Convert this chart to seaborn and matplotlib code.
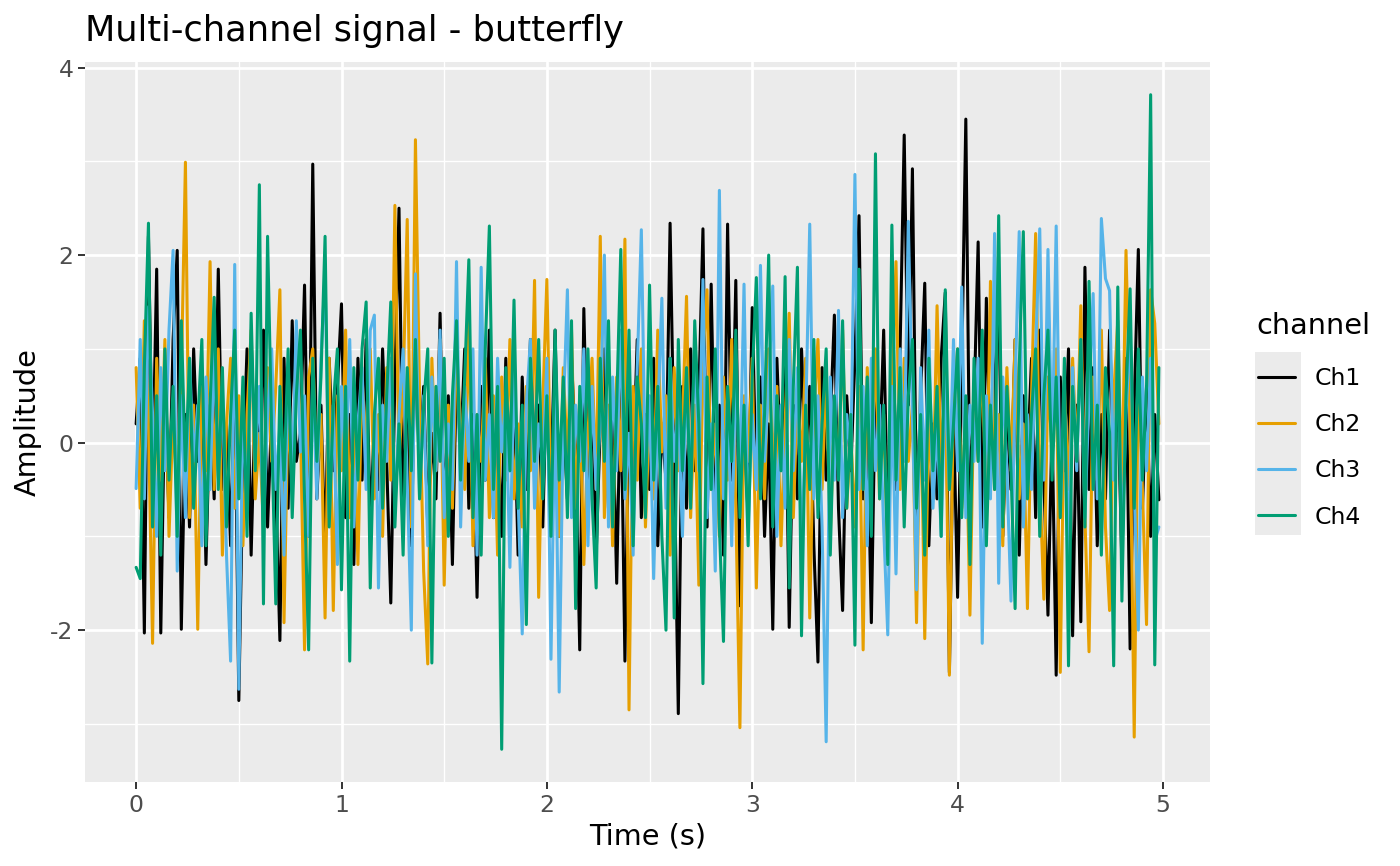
import numpy as np
import pandas as pd
import seaborn as sns
import matplotlib
matplotlib.use("Agg")
import matplotlib.pyplot as plt
from matplotlib.patches import Rectangle

# values, 50 samples per second
sample_rate = 50
channels = ["Ch1", "Ch2", "Ch3", "Ch4"]
colors = {"Ch1": "#000000", "Ch2": "#E69F00", "Ch3": "#56B4E9", "Ch4": "#009E73"}

ch1 = [
    0.2, 0.9, -2.03, 2.2, -0.4, 1.85, -2.03, 0.6, -0.8, 1.1, 2.05, -1.99, 0.3, -0.9, 1.0, -0.2, 0.7, -1.3, 0.4, -0.6, 1.85, -0.5, 0.2, -1.1, 0.8,
    -2.75, -0.3, 1.0, -1.2, 0.5, -0.1, 1.2, -0.9, 0.3, -0.5, -2.11, 0.9, -0.7, 1.3, -0.2, 0.1, 1.68, -1.0, 2.97, -0.6, 0.4, -1.2, 0.9, -0.3, 0.6,
    1.48, -0.8, 0.3, -1.3, 0.9, -0.4, 1.1, -0.9, 0.2, -0.5, 1.0, -0.2, -1.71, 0.7, 2.5, -0.7, 0.4, -1.1, 1.2, -0.3, 0.6, -0.9, 0.1, -0.6, 1.38,
    -0.9, 0.5, -1.3, 0.8, -0.1, 1.0, -0.7, 0.3, -1.65, 0.6, -0.4, 1.2, -0.8, 0.2, -1.0, 0.9, -0.3, 0.5, -1.2, 0.7, -0.5, 1.1, -0.2, 0.4, -0.9,
    0.8, -0.4, 1.2, -1.0, 0.3, -0.6, 0.9, -0.1, -2.21, 1.43, -0.5, 0.6, -1.2, 0.2, 1.0, -0.7, 0.4, -1.5, 0.7, -2.33, 0.5, -0.3, 1.1, -0.8, 0.3,
    -0.5, 0.9, -1.1, 0.2, -0.4, 2.34, -0.2, -2.89, 0.6, -0.7, 1.0, -0.3, 0.5, 2.28, -0.9, 1.69, -0.6, 0.4, -1.2, 2.33, -0.4, 1.73, -1.74, 0.3, -0.8,
    1.44, -0.5, 0.7, -1.0, 0.2, -1.99, 0.9, -0.3, 1.1, -1.97, 0.4, -0.6, 1.0, -0.2, 0.6, -1.1, -2.34, 0.8, -0.4, 0.2, 1.36, -0.7, -1.79, 0.5, -0.3,
    0.9, 2.42, -0.6, 0.3, -1.92, 0.7, -0.2, 1.2, -0.9, 0.4, -0.5, 1.0, 3.28, 0.4, 2.92, -0.8, 0.5, 1.7, -1.1, 0.2, -0.6, 0.9, 1.6, -2.45, 0.3,
    -1.65, 0.8, 3.45, -0.7, 0.4, 2.14, -0.9, 1.54, -0.3, 0.6, 1.59, -1.0, 0.3, -0.5, 1.1, -1.2, 0.5, -0.2, 0.9, -0.8, 1.2, -0.4, -1.84, 0.2, -2.48,
    0.7, -0.3, 1.0, -2.06, 0.4, -1.91, 1.87, -0.5, 0.8, -1.1, 0.3, -0.6, 1.2, -0.2, 0.5, -1.3, 0.9, -2.2, 0.4, 2.06, -0.7, 0.6, -1.0, 0.3, -0.61,
]
ch2 = [
    0.8, -0.7, 1.3, 0.2, -2.14, 0.9, -0.4, 1.1, -1.0, 0.3, -0.6, 0.7, 2.99, -0.8, 0.4, -1.99, 0.6, -0.3, 1.93, -0.5, 1.0, -1.2, 0.2, 0.9, -0.7,
    0.5, -1.1, 0.3, 1.2, -0.6, 0.1, -0.9, 0.8, -0.2, 0.6, 1.63, -1.92, 0.4, -0.5, 1.1, 0.2, -2.21, 0.7, 1.0, -0.4, 0.3, -1.87, 0.9, -1.79, 0.5,
    -0.3, 1.2, -0.8, 0.4, -1.3, 0.7, -0.1, 1.0, -0.6, 0.3, -1.0, 0.8, -0.4, 2.53, -0.2, 0.6, 2.38, -0.9, 3.23, 0.5, -1.37, -2.36, 0.9, -0.3, 1.1,
    -1.52, 0.4, -0.7, 1.0, 0.2, -0.5, 1.3, -1.1, 0.3, -0.2, 0.9, -0.8, 0.5, -1.2, 0.7, -0.4, 1.1, -0.6, 0.2, -0.9, 0.6, -0.3, 1.73, -1.65, 0.4,
    1.74, -0.6, 0.3, -1.0, 0.8, -0.2, 1.2, -0.7, 0.5, -1.3, 0.1, 0.9, -0.5, 2.2, -0.8, 0.4, -1.1, 0.7, -0.3, 2.17, -2.85, 0.6, -0.4, 1.0, -0.9,
    0.3, -0.6, 1.2, -0.1, 0.5, -1.2, 0.8, -0.3, 0.2, 1.56, -0.8, 0.4, -1.52, 0.9, 1.63, -0.5, 0.2, -1.0, 0.7, -0.4, 1.1, -0.7, -3.04, 0.5, -0.2,
    0.9, -1.55, 0.4, -0.6, 1.0, -0.3, 0.6, -1.1, 0.2, 1.38, -0.8, 0.5, -0.2, 0.9, -1.87, 0.3, 1.1, -0.5, 0.7, -1.0, 0.4, -0.3, 1.2, -0.7, 0.1,
    -0.9, 0.6, -2.21, 0.8, -0.4, 1.0, -0.6, 0.3, -1.2, 0.5, 1.93, -0.5, 0.9, -0.2, 0.4, -1.92, 0.7, -2.09, 0.3, -0.6, 1.46, -0.3, 0.8, -2.48, 0.5,
    1.0, -0.7, 0.4, -1.84, 0.6, -0.2, 0.9, -0.8, 1.72, -0.5, 0.3, -1.1, 0.8, -0.3, 1.1, -0.6, 0.2, -1.77, 0.5, 2.23, -0.4, -1.67, 0.7, -0.1, 1.0,
    -2.45, 0.6, -0.5, 0.9, -0.2, 1.46, -0.8, -2.23, 0.7, -0.4, 1.2, -0.9, -1.79, 0.5, 1.3, -0.6, 2.05, 0.2, -3.14, 0.8, -0.5, -1.94, 1.63, 1.27, 0.2,
]
ch3 = [
    -0.49, 1.1, -0.6, 1.45, 0.3, -1.0, 0.8, -0.3, 1.2, 2.05, -1.37, 0.5, -0.8, 0.9, -0.2, 0.4, -1.1, 0.7, -0.5, 1.0, -0.3, 0.6, -1.2, -2.33, 1.9,
    -2.63, 0.4, -0.7, 1.1, -0.2, 0.6, -0.9, 0.3, 1.0, -0.5, 0.2, -1.2, 0.8, -0.4, 1.3, -0.1, 0.5, -1.0, 0.7, -0.6, 0.9, 1.8, -0.8, 0.4, -1.3,
    0.6, -0.3, 1.1, -0.9, 0.2, 0.8, -0.5, 1.2, 1.36, -1.55, 0.4, -0.2, 0.9, -0.7, 0.3, 1.0, -0.4, -2.0, 1.8, -0.6, 0.5, -1.1, 0.7, -0.3, 1.2,
    -0.8, 0.2, -0.5, 1.93, -0.9, 0.6, -0.2, 1.0, -1.2, 1.87, -0.4, 0.3, -0.8, 0.9, -0.1, 0.5, -1.33, 0.8, -0.6, -2.04, 0.4, 1.1, -0.7, 0.2, -0.3,
    0.9, -2.31, 0.5, -2.66, 0.3, 1.63, -0.8, 0.4, -0.2, 1.0, -1.1, 0.6, -0.5, 0.2, 2.0, -0.9, 0.7, -0.3, 1.2, -0.6, 0.1, -1.2, 0.8, 2.27, -0.4,
    0.5, -1.45, 0.3, 1.54, -0.7, 0.9, -0.2, 0.4, -1.0, 0.7, -0.5, 1.1, -0.3, 1.74, -0.8, 0.2, -1.37, 2.69, -0.6, 0.5, -1.1, 0.8, -0.4, 1.69, -0.9,
    0.3, -0.5, 1.89, -0.2, 0.6, 1.67, -1.0, 0.4, -0.7, 1.1, -0.3, 0.8, -1.2, 0.2, 2.33, -0.6, 0.5, -0.9, -3.19, 0.7, -0.4, 1.41, -0.8, 0.3, -0.2,
    2.86, -0.5, 0.6, -1.1, 0.9, -0.3, 0.4, -0.9, -2.05, 0.6, -1.4, 1.0, -0.2, 2.36, 0.3, -1.57, 0.8, -0.4, 1.2, -0.7, 0.2, -1.0, 0.7, -0.5, 1.1,
    -0.3, 1.66, -0.8, 0.4, -0.2, 0.9, -2.14, 0.5, -0.6, 2.23, -1.5, 0.7, -0.3, -1.69, 0.6, 2.25, -0.9, 0.3, -0.5, 1.0, 2.28, -0.4, 2.06, -0.2, 2.31,
    -0.7, 0.4, -1.2, 0.8, -0.3, 1.1, -0.8, 0.5, 1.59, -0.6, 2.39, 1.75, 1.62, -0.4, 0.9, -1.1, 0.3, 1.2, -0.5, -2.0, 0.7, -0.3, 0.9, -1.05, -0.9,
]
ch4 = [
    -1.33, -1.45, 0.8, 2.34, -0.9, 0.5, -1.2, 1.0, -0.4, 0.6, -1.0, 1.3, -0.3, 0.9, -0.7, 0.2, 1.1, -1.1, 0.4, 1.55, -0.5, 0.8, -0.9, 0.3, 1.2,
    -0.6, 0.7, -1.0, 1.38, -0.3, 2.75, -1.72, 2.2, 0.1, -1.72, 0.6, -0.4, 1.0, -0.8, 0.5, 1.2, -0.6, -2.21, 0.9, -0.2, 0.7, 2.2, -0.9, 0.4, 1.0,
    -1.57, 0.6, -2.33, 0.8, -0.4, 1.0, 1.5, -1.55, 0.3, 0.9, -0.7, 0.5, 1.5, -0.9, 0.2, -1.2, 0.8, -0.3, 1.1, -0.6, 0.4, 1.0, -2.35, 0.6, -0.2,
    0.9, -1.0, 0.5, 1.3, -0.4, 0.7, 1.95, -0.8, 0.3, -1.2, 1.0, 2.31, -0.5, 0.6, -3.27, 0.8, -0.3, 1.52, -0.7, 0.4, -1.94, 0.9, -0.2, 1.1, -0.6,
    0.5, -1.0, 1.2, -0.4, 0.7, -0.8, 1.3, -1.77, 0.6, -0.3, 1.0, -0.6, -1.55, 0.9, -0.2, 1.3, -0.9, 0.4, 2.06, -0.5, 1.2, -1.1, 0.7, 0.2, -0.8,
    1.68, -0.4, 0.6, -1.0, -2.0, 0.9, -1.87, 1.1, -0.3, 0.8, -0.7, 1.3, 0.2, -2.57, 0.7, -0.5, 1.0, -0.9, -2.12, 0.6, -0.2, 1.2, -0.8, 0.4, -1.1,
    0.7, 1.76, -0.6, 0.3, 2.0, -0.9, 0.5, -0.3, 1.77, -1.55, 0.6, 1.87, -2.06, 0.4, -0.5, 1.1, -0.8, 0.2, 1.0, -1.2, 0.5, -0.4, 1.3, -0.7, 0.3,
    -2.16, 1.85, -0.5, 0.7, -1.0, 3.08, -0.6, 0.4, -1.3, 2.32, -0.4, 0.8, -0.9, 0.5, 1.1, -0.7, 0.3, -1.2, 0.9, -0.3, 0.6, -1.0, 1.63, -0.5, 0.2,
    1.0, -0.8, 0.5, -1.3, 0.9, -0.2, 1.2, -1.1, 0.4, -0.5, 2.42, -0.9, 0.6, -0.3, -1.77, 0.8, 2.25, -0.6, 0.3, 1.0, -1.0, 0.5, 1.2, -0.4, 0.7,
    -0.8, 0.9, -2.38, 0.6, -0.2, 1.1, -0.9, 1.72, -0.5, 0.4, -1.2, 0.8, 0.1, -2.38, 1.66, -1.69, 0.5, 1.64, -0.7, 1.0, -0.4, 0.6, 3.71, -2.37, 0.8,
]

x_ticks = [0, 1, 2, 3, 4, 5]
x_minor = [0.5, 1.5, 2.5, 3.5, 4.5]
y_ticks = [-2, 0, 2, 4]
y_minor = [-3, -1, 1, 3]

time_s = np.arange(len(ch1)) / sample_rate
df = pd.DataFrame({
    "time": np.tile(time_s, len(channels)),
    "amplitude": ch1 + ch2 + ch3 + ch4,
    "channel": np.repeat(channels, len(ch1)),
})

sns.set_style("darkgrid", {"axes.facecolor": "#EBEBEB", "grid.color": "white"})
plt.rcParams["font.family"] = ["DejaVu Sans"]
plt.rcParams["axes.unicode_minus"] = False

fig = plt.figure(figsize=(14, 8.66), dpi=100)
ax = fig.add_axes([85 / 1400, 1 - 782 / 866, 1125 / 1400, 720 / 866])

sns.lineplot(data=df, x="time", y="amplitude", hue="channel", palette=colors,
             estimator=None, sort=False, linewidth=2.2, ax=ax)
ax.margins(x=0.05, y=0.05)

ax.set_xticks(x_ticks)
ax.set_xticks(x_minor, minor=True)
ax.set_yticks(y_ticks)
ax.set_yticks(y_minor, minor=True)
ax.grid(which="major", color="white", linewidth=2.0)
ax.grid(which="minor", color="white", linewidth=1.0)
ax.tick_params(which="major", bottom=True, left=True, length=5.3, width=1.4,
               color="#333333", labelsize=16.9, labelcolor="#4D4D4D", pad=3)
ax.tick_params(which="minor", length=0)
for s in ax.spines.values():
    s.set_visible(False)

ax.set_xlabel("Time (s)", fontsize=20.7, color="black")
ax.set_ylabel("Amplitude", fontsize=20.7, color="black")
ax.xaxis.set_label_coords(0.5, -0.056)
ax.yaxis.set_label_coords(-0.038, 0.5)

fig.text(85 / 1400, 1 - 41 / 866, "Multi-channel signal - butterfly",
         fontsize=25.3, color="black", ha="left", va="baseline")

# legend: title as its own text, keys on a grey panel like ggplot
fig.text(1256 / 1400, 1 - 334 / 866, "channel", fontsize=20.7,
         color="black", ha="left", va="baseline")
handles, labels = ax.get_legend_handles_labels()
ax.get_legend().remove()
leg = fig.legend(handles, labels, loc="upper left",
                 bbox_to_anchor=(1258 / 1400, 1 - 367 / 866), frameon=False,
                 fontsize=16.9, handlelength=1.57, handletextpad=0.85,
                 labelspacing=0.99, borderpad=0, borderaxespad=0)
for line in leg.get_lines():
    line.set_linewidth(2.2)
for txt in leg.get_texts():
    txt.set_color("black")

fig.add_artist(Rectangle((1255 / 1400, 1 - 535 / 866), 46 / 1400, 183 / 866,
                         transform=fig.transFigure, facecolor="#EBEBEB",
                         edgecolor="none", zorder=0))

fig.savefig("out.png", dpi=100)
